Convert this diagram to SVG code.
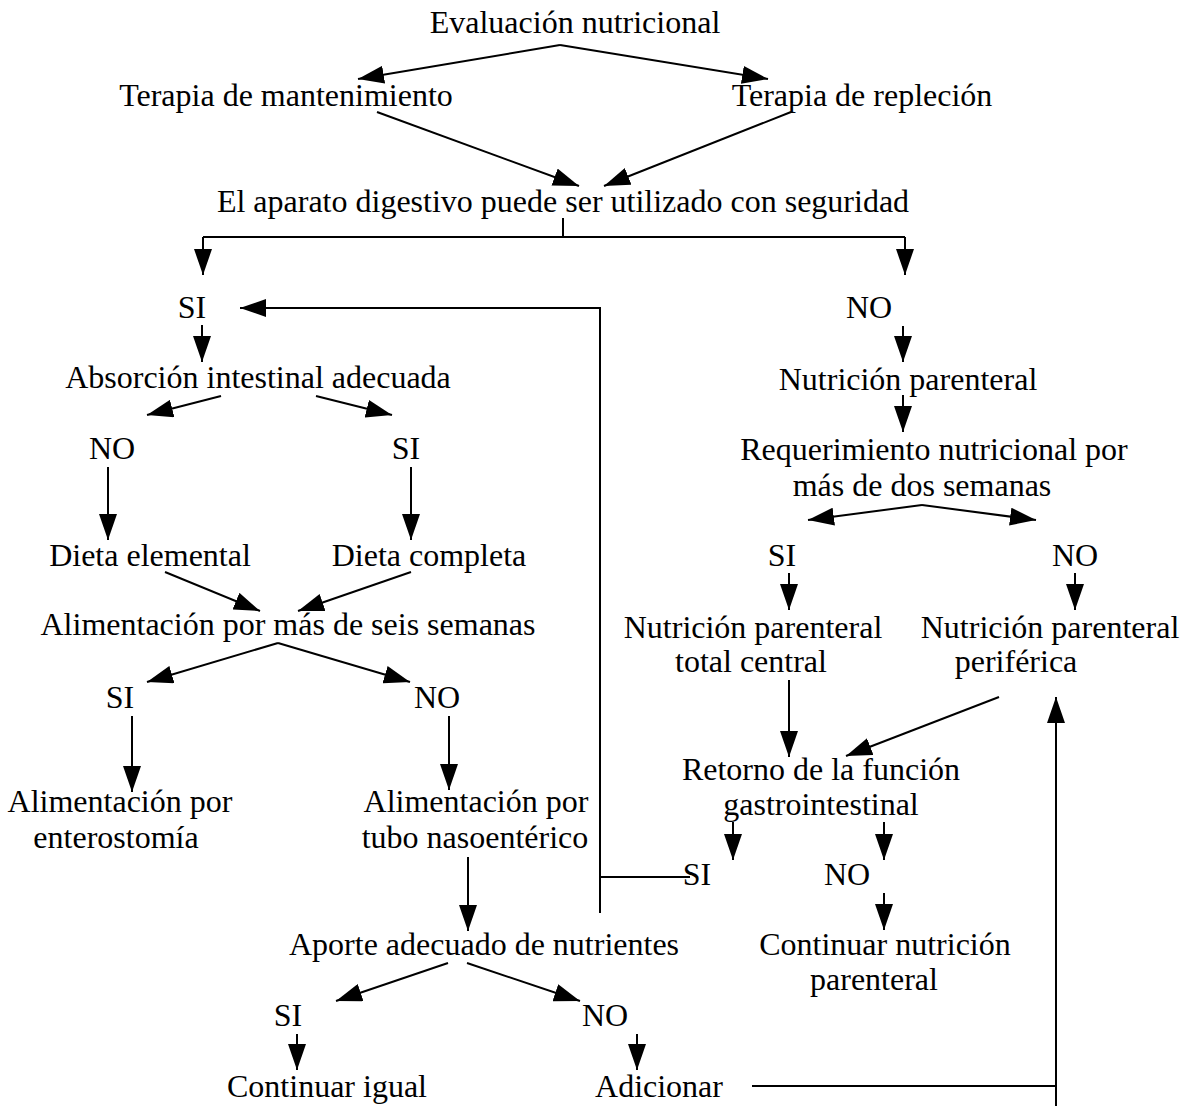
<svg xmlns="http://www.w3.org/2000/svg" width="1189" height="1110" viewBox="0 0 1189 1110">
<style>
text{font-family:"Liberation Serif","Times New Roman",serif;font-size:32px;fill:#000;text-anchor:middle}
.c line,.c path{stroke:#000;stroke-width:2;fill:none}
.a{marker-end:url(#ah)}
</style>
<defs>
<marker id="ah" markerUnits="userSpaceOnUse" markerWidth="26" markerHeight="18" refX="26" refY="9" orient="auto" viewBox="0 0 26 18">
<path d="M0,0 L26,9 L0,18 z" fill="#000"/>
</marker>
</defs>
<rect width="1189" height="1110" fill="#fff"/>
<g class="c" id="connectors">
<line class="a" x1="560" y1="45" x2="358" y2="79"/>
<line class="a" x1="560" y1="45" x2="768" y2="79"/>
<line class="a" x1="377" y1="112" x2="579" y2="186"/>
<line class="a" x1="791" y1="112" x2="604" y2="186"/>
<path d="M563,218 V237 M203,237 H905"/>
<line class="a" x1="203" y1="237" x2="203" y2="275"/>
<line class="a" x1="905" y1="237" x2="905" y2="275"/>
<line class="a" x1="202" y1="325" x2="202" y2="362"/>
<path class="a" d="M600,913 V308 H240"/>
<path d="M600,877 H690"/>
<line class="a" x1="221" y1="396" x2="147" y2="415"/>
<line class="a" x1="316" y1="396" x2="392" y2="415"/>
<line class="a" x1="108" y1="467" x2="108" y2="540"/>
<line class="a" x1="411" y1="467" x2="411" y2="540"/>
<line class="a" x1="165" y1="572" x2="260" y2="611"/>
<line class="a" x1="411" y1="572" x2="298" y2="611"/>
<line class="a" x1="278" y1="643" x2="147" y2="682"/>
<line class="a" x1="278" y1="643" x2="410" y2="682"/>
<line class="a" x1="132" y1="716" x2="132" y2="792"/>
<line class="a" x1="449" y1="716" x2="449" y2="790"/>
<line class="a" x1="468" y1="857" x2="468" y2="931"/>
<line class="a" x1="448" y1="963" x2="336" y2="1001"/>
<line class="a" x1="467" y1="963" x2="580" y2="1001"/>
<line class="a" x1="297" y1="1034" x2="297" y2="1070"/>
<line class="a" x1="637" y1="1034" x2="637" y2="1070"/>
<path d="M752,1086 H1056"/>
<line class="a" x1="1056" y1="1106" x2="1056" y2="697"/>
<line class="a" x1="903" y1="326" x2="903" y2="362"/>
<line class="a" x1="903" y1="395" x2="903" y2="432"/>
<line class="a" x1="922" y1="505" x2="808" y2="520"/>
<line class="a" x1="922" y1="505" x2="1036" y2="520"/>
<line class="a" x1="789" y1="573" x2="789" y2="610"/>
<line class="a" x1="1075" y1="573" x2="1075" y2="610"/>
<line class="a" x1="789" y1="680" x2="789" y2="757"/>
<line class="a" x1="999" y1="697" x2="846" y2="756"/>
<line class="a" x1="733" y1="822" x2="733" y2="860"/>
<line class="a" x1="884" y1="822" x2="884" y2="860"/>
<line class="a" x1="884" y1="893" x2="884" y2="930"/>
</g>
<g id="n-eval"><text x="575" y="33">Evaluación nutricional</text></g>
<g id="n-mant"><text x="286" y="106">Terapia de mantenimiento</text></g>
<g id="n-repl"><text x="862" y="106">Terapia de repleción</text></g>
<g id="n-aparato"><text x="563" y="212">El aparato digestivo puede ser utilizado con seguridad</text></g>
<g id="n-si1"><text x="192" y="318">SI</text></g>
<g id="n-no1"><text x="869" y="318">NO</text></g>
<g id="n-absor"><text x="258" y="388">Absorción intestinal adecuada</text></g>
<g id="n-np1"><text x="908" y="390">Nutrición parenteral</text></g>
<g id="n-no2"><text x="112" y="459">NO</text></g>
<g id="n-si2"><text x="406" y="459">SI</text></g>
<g id="n-req"><text x="934" y="460">Requerimiento nutricional por</text><text x="922" y="496">más de dos semanas</text></g>
<g id="n-delem"><text x="150" y="566">Dieta elemental</text></g>
<g id="n-dcomp"><text x="429" y="566">Dieta completa</text></g>
<g id="n-si3"><text x="782" y="566">SI</text></g>
<g id="n-no3"><text x="1075" y="566">NO</text></g>
<g id="n-aliseis"><text x="288" y="635">Alimentación por más de seis semanas</text></g>
<g id="n-nptc"><text x="753" y="638">Nutrición parenteral</text><text x="751" y="672">total central</text></g>
<g id="n-npp"><text x="1050" y="638">Nutrición parenteral</text><text x="1016" y="672">periférica</text></g>
<g id="n-si4"><text x="120" y="708">SI</text></g>
<g id="n-no4"><text x="437" y="708">NO</text></g>
<g id="n-retorno"><text x="821" y="780">Retorno de la función</text><text x="821" y="815">gastrointestinal</text></g>
<g id="n-entero"><text x="120" y="812">Alimentación por</text><text x="116" y="848">enterostomía</text></g>
<g id="n-naso"><text x="476" y="812">Alimentación por</text><text x="475" y="848">tubo nasoentérico</text></g>
<g id="n-si5"><text x="697" y="885">SI</text></g>
<g id="n-no5"><text x="847" y="885">NO</text></g>
<g id="n-aporte"><text x="484" y="955">Aporte adecuado de nutrientes</text></g>
<g id="n-cont"><text x="885" y="955">Continuar nutrición</text><text x="874" y="990">parenteral</text></g>
<g id="n-si6"><text x="288" y="1026">SI</text></g>
<g id="n-no6"><text x="605" y="1026">NO</text></g>
<g id="n-igual"><text x="327" y="1097">Continuar igual</text></g>
<g id="n-adic"><text x="659" y="1097">Adicionar</text></g>
</svg>
